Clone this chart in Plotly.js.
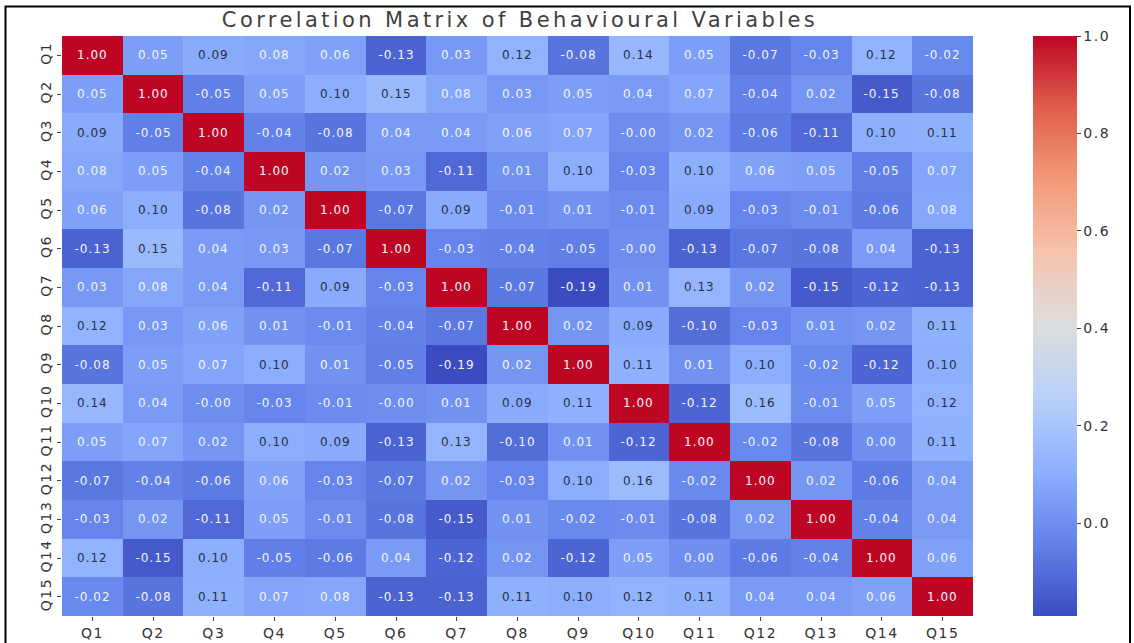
<!DOCTYPE html>
<html>
<head>
<meta charset="utf-8">
<script src="https://cdn.plot.ly/plotly-3.0.1.min.js"></script>
<style>
html,body{margin:0;padding:0;background:#fff;}
#chart{width:1134px;height:643px;}
#chart .gtitle{letter-spacing:3.4px;}
#chart .annotation-text{letter-spacing:1px;}
#chart .xtick text, #chart .ytick text{letter-spacing:1.5px;}
#chart .cbaxis text{letter-spacing:1.5px;}
</style>
</head>
<body>
<div id="chart"></div>
<script>
const variables = ["Q1","Q2","Q3","Q4","Q5","Q6","Q7","Q8","Q9","Q10","Q11","Q12","Q13","Q14","Q15"];

const rowQ1  = [1.00, 0.05, 0.09, 0.08, 0.06, -0.13, 0.03, 0.12, -0.08, 0.14, 0.05, -0.07, -0.03, 0.12, -0.02];
const rowQ2  = [0.05, 1.00, -0.05, 0.05, 0.10, 0.15, 0.08, 0.03, 0.05, 0.04, 0.07, -0.04, 0.02, -0.15, -0.08];
const rowQ3  = [0.09, -0.05, 1.00, -0.04, -0.08, 0.04, 0.04, 0.06, 0.07, -0.004, 0.02, -0.06, -0.11, 0.10, 0.11];
const rowQ4  = [0.08, 0.05, -0.04, 1.00, 0.02, 0.03, -0.11, 0.01, 0.10, -0.03, 0.10, 0.06, 0.05, -0.05, 0.07];
const rowQ5  = [0.06, 0.10, -0.08, 0.02, 1.00, -0.07, 0.09, -0.01, 0.01, -0.01, 0.09, -0.03, -0.01, -0.06, 0.08];
const rowQ6  = [-0.13, 0.15, 0.04, 0.03, -0.07, 1.00, -0.03, -0.04, -0.05, -0.004, -0.13, -0.07, -0.08, 0.04, -0.13];
const rowQ7  = [0.03, 0.08, 0.04, -0.11, 0.09, -0.03, 1.00, -0.07, -0.19, 0.01, 0.13, 0.02, -0.15, -0.12, -0.13];
const rowQ8  = [0.12, 0.03, 0.06, 0.01, -0.01, -0.04, -0.07, 1.00, 0.02, 0.09, -0.10, -0.03, 0.01, 0.02, 0.11];
const rowQ9  = [-0.08, 0.05, 0.07, 0.10, 0.01, -0.05, -0.19, 0.02, 1.00, 0.11, 0.01, 0.10, -0.02, -0.12, 0.10];
const rowQ10 = [0.14, 0.04, -0.004, -0.03, -0.01, -0.004, 0.01, 0.09, 0.11, 1.00, -0.12, 0.16, -0.01, 0.05, 0.12];
const rowQ11 = [0.05, 0.07, 0.02, 0.10, 0.09, -0.13, 0.13, -0.10, 0.01, -0.12, 1.00, -0.02, -0.08, 0.00, 0.11];
const rowQ12 = [-0.07, -0.04, -0.06, 0.06, -0.03, -0.07, 0.02, -0.03, 0.10, 0.16, -0.02, 1.00, 0.02, -0.06, 0.04];
const rowQ13 = [-0.03, 0.02, -0.11, 0.05, -0.01, -0.08, -0.15, 0.01, -0.02, -0.01, -0.08, 0.02, 1.00, -0.04, 0.04];
const rowQ14 = [0.12, -0.15, 0.10, -0.05, -0.06, 0.04, -0.12, 0.02, -0.12, 0.05, 0.00, -0.06, -0.04, 1.00, 0.06];
const rowQ15 = [-0.02, -0.08, 0.11, 0.07, 0.08, -0.13, -0.13, 0.11, 0.10, 0.12, 0.11, 0.04, 0.04, 0.06, 1.00];

const colorbarTicks = [0.0, 0.2, 0.4, 0.6, 0.8, 1.0];

const matrix = [rowQ1,rowQ2,rowQ3,rowQ4,rowQ5,rowQ6,rowQ7,rowQ8,rowQ9,rowQ10,rowQ11,rowQ12,rowQ13,rowQ14,rowQ15];

const coolwarm = [
  [0.000,"rgb(59,76,192)"],
  [0.125,"rgb(98,130,234)"],
  [0.250,"rgb(141,176,254)"],
  [0.375,"rgb(184,208,249)"],
  [0.500,"rgb(221,221,221)"],
  [0.625,"rgb(245,196,173)"],
  [0.750,"rgb(244,154,123)"],
  [0.875,"rgb(222,96,77)"],
  [1.000,"rgb(190,6,36)"]
];

function fmt(v){
  const s = Math.abs(v).toFixed(2);
  return (v < 0 ? "-" : "") + s;
}

const annotations = [];
matrix.forEach((row, i) => {
  row.forEach((v, j) => {
    const dark = v >= 0.085 && v < 0.5;
    annotations.push({
      x: variables[j], y: variables[i], xref: "x", yref: "y",
      text: fmt(v), showarrow: false,
      font: {family: "DejaVu Sans", size: 12, color: dark ? "#2a2f45" : "#f4f6ff"}
    });
  });
});

const L = 62, R = 973, T = 36, B = 616;
function px(x){ return (x - L) / (R - L); }
function py(y){ return (B - y) / (B - T); }

const trace = {
  type: "heatmap",
  z: matrix,
  x: variables,
  y: variables,
  zmin: -0.19,
  zmax: 1.0,
  colorscale: coolwarm,
  xgap: 0, ygap: 0,
  hoverinfo: "skip",
  colorbar: {
    x: px(1033), xanchor: "left", xpad: 0,
    y: 0.5, yanchor: "middle", len: 1, lenmode: "fraction", ypad: 0,
    thickness: 44, thicknessmode: "pixels",
    outlinewidth: 0,
    tickvals: colorbarTicks,
    ticktext: colorbarTicks.map(v => v.toFixed(1)),
    ticks: "outside", ticklen: 4, tickcolor: "#444",
    tickfont: {family: "DejaVu Sans", size: 14, color: "#333"}
  }
};

const layout = {
  width: 1134, height: 643,
  margin: {l: L, r: 1134 - R, t: T, b: 643 - B, pad: 0},
  paper_bgcolor: "#ffffff",
  plot_bgcolor: "#ffffff",
  title: {
    text: "Correlation Matrix of Behavioural Variables",
    font: {family: "DejaVu Sans", size: 21, color: "#404040"},
    x: px(520), xanchor: "center", xref: "paper",
    y: 1 - 20/643, yanchor: "middle", yref: "container"
  },
  xaxis: {
    type: "category", showgrid: false, zeroline: false, showline: false,
    ticks: "outside", ticklen: 4, tickcolor: "#444",
    tickfont: {family: "DejaVu Sans", size: 14, color: "#333"},
    fixedrange: true
  },
  yaxis: {
    type: "category", autorange: "reversed", showgrid: false, zeroline: false, showline: false,
    ticks: "outside", ticklen: 4, tickcolor: "#444", tickangle: -90,
    tickfont: {family: "DejaVu Sans", size: 14, color: "#333"},
    fixedrange: true
  },
  annotations: annotations,
  shapes: [{
    type: "rect", xref: "paper", yref: "paper",
    x0: px(5.5), x1: px(1130), y0: py(660), y1: py(6.5),
    line: {color: "#000", width: 2}, fillcolor: "rgba(0,0,0,0)", layer: "above"
  }]
};

Plotly.newPlot("chart", [trace], layout, {displayModeBar: false, staticPlot: true});
</script>
</body>
</html>
